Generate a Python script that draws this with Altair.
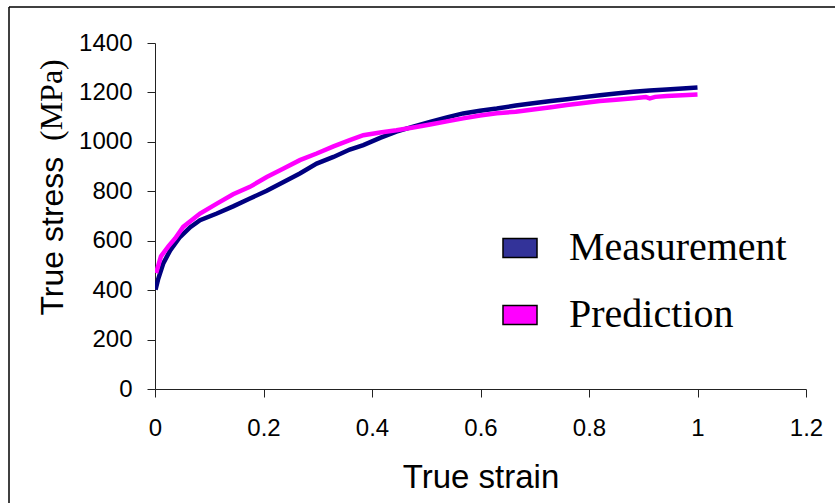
import altair as alt
import pandas as pd

# ---- data ----
series_names = ["Measurement", "Prediction"]
line_colors = ["#000080", "#ff00ff"]
legend_fills = ["#333399", "#ff00ff"]

meas_strain = [0.001, 0.006, 0.015, 0.028, 0.046, 0.065, 0.083, 0.114, 0.144, 0.175,
               0.206, 0.237, 0.267, 0.298, 0.329, 0.359, 0.384, 0.415, 0.445, 0.476,
               0.507, 0.538, 0.568, 0.599, 0.630, 0.665, 0.697, 0.730, 0.759, 0.790,
               0.820, 0.850, 0.882, 0.912, 0.943, 0.972, 1.0]
meas_stress = [402, 446, 507, 561, 615, 655, 683, 710, 739, 771,
               802, 838, 872, 912, 939, 969, 987, 1016, 1041, 1062,
               1081, 1099, 1115, 1126, 1135, 1147, 1156, 1165, 1172, 1181,
               1189, 1196, 1203, 1208, 1212, 1216, 1220]

pred_strain = [0.002, 0.011, 0.025, 0.037, 0.052, 0.083, 0.114, 0.144, 0.175, 0.206,
               0.237, 0.267, 0.298, 0.329, 0.359, 0.384, 0.415, 0.445, 0.476, 0.507,
               0.538, 0.568, 0.599, 0.630, 0.665, 0.697, 0.730, 0.759, 0.790, 0.820,
               0.850, 0.882, 0.905, 0.912, 0.922, 0.943, 0.972, 1.0]
pred_stress = [469, 537, 578, 609, 656, 710, 750, 788, 818, 858,
               892, 926, 953, 982, 1007, 1027, 1038, 1047, 1058, 1070,
               1083, 1095, 1107, 1116, 1122, 1131, 1140, 1149, 1157, 1165,
               1170, 1176, 1181, 1176, 1182, 1186, 1189, 1192]

x_ticks = [0, 0.2, 0.4, 0.6, 0.8, 1.0, 1.2]
y_ticks = [0, 200, 400, 600, 800, 1000, 1200, 1400]

df = pd.concat([
    pd.DataFrame({"strain": meas_strain, "stress": meas_stress, "series": series_names[0], "order": 0}),
    pd.DataFrame({"strain": pred_strain, "stress": pred_stress, "series": series_names[1], "order": 1}),
])

W, H = 651, 346
PAD = {"left": 155, "top": 43, "right": 29, "bottom": 114}

x_enc = alt.X("strain:Q",
              scale=alt.Scale(domain=[0, 1.2], nice=False, zero=False),
              axis=alt.Axis(values=x_ticks, format=".1~f", title="True strain",
                            titleY=98, titleBaseline="alphabetic", titleFontSize=33,
                            labelPadding=19, labelFlush=False))
y_enc = alt.Y("stress:Q",
              scale=alt.Scale(domain=[0, 1400], nice=False),
              axis=alt.Axis(values=y_ticks, format="d", title="True stress",
                            titleAngle=270, titleX=-93, titleY=272,
                            titleAlign="left", titleBaseline="alphabetic",
                            labelPadding=15, labelFlush=False))

lines = alt.Chart(df).mark_line(strokeWidth=4.5, clip=True).encode(
    x=x_enc, y=y_enc,
    color=alt.Color("series:N",
                    scale=alt.Scale(domain=series_names, range=line_colors),
                    legend=None),
    order=alt.Order("order:Q"),
    detail="series:N",
)

# invisible layer that only supplies the filled-box legend
legend_layer = alt.Chart(pd.DataFrame({"series": series_names})).mark_point(
    filled=True, opacity=0, shape="M-1.8,-1L1.8,-1L1.8,1L-1.8,1Z", size=357,
).encode(
    fill=alt.Fill("series:N",
                  scale=alt.Scale(domain=series_names, range=legend_fills),
                  legend=alt.Legend(
                      orient="none", legendX=345, legendY=185, title=None,
                      symbolType="M-1.8,-1L1.8,-1L1.8,1L-1.8,1Z",
                      symbolSize=357, symbolStrokeWidth=1.5,
                      symbolStrokeColor="black", symbolOpacity=1,
                      labelFont="Liberation Serif", labelFontSize=40,
                      labelColor="black", labelOffset=29, rowPadding=27,
                      labelLimit=400, padding=0,
                  )),
)

unit_title = alt.Chart(pd.DataFrame({"t": ["(MPa)"]})).mark_text(
    angle=270, align="left", baseline="alphabetic",
    font="Liberation Serif", fontSize=32, color="black",
).encode(x=alt.value(-93), y=alt.value(98), text="t:N")

frame_top = alt.Chart(pd.DataFrame({"k": [0]})).mark_rule(color="black", strokeWidth=1.5).encode(
    x=alt.value(9 - PAD["left"]), x2=alt.value(835 - PAD["left"]), y=alt.value(7 - PAD["top"]))
frame_left = alt.Chart(pd.DataFrame({"k": [0]})).mark_rule(color="black", strokeWidth=1.5).encode(
    x=alt.value(9 - PAD["left"]), y=alt.value(7 - PAD["top"]), y2=alt.value(503 - PAD["top"]))

chart = alt.layer(frame_top, frame_left, lines, legend_layer, unit_title).resolve_scale(
    color="independent", fill="independent"
).properties(
    width=W, height=H,
    autosize=alt.AutoSizeParams(type="none"),
    padding=PAD,
    background="white",
).configure_view(stroke=None).configure_axis(
    grid=False,
    domainColor="#222", domainWidth=1,
    tickColor="#222", tickWidth=1, tickSize=8,
    labelFont="Liberation Sans", labelFontSize=24, labelColor="black",
    titleFont="Liberation Sans", titleFontSize=32, titleColor="black",
    titleFontWeight="normal",
)

chart.save("out.html", embed_options={"renderer": "svg", "actions": False})
